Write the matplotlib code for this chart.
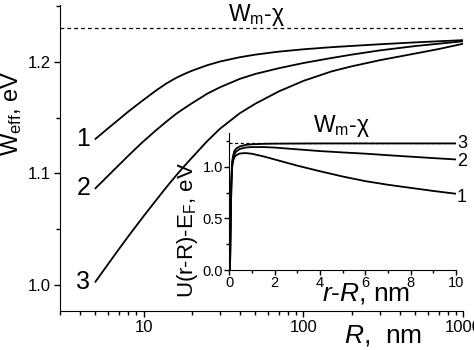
import numpy as np
import matplotlib
matplotlib.use('Agg')
import matplotlib.pyplot as plt
from matplotlib.ticker import FixedLocator, MultipleLocator, NullFormatter, FormatStrFormatter

plt.rcParams['font.family'] = ['Liberation Sans', 'DejaVu Sans']
plt.rcParams['mathtext.fontset'] = 'custom'
plt.rcParams['mathtext.rm'] = 'Liberation Sans'
plt.rcParams['mathtext.it'] = 'Liberation Sans:italic'

# Weff(R) for the three cases
R = [5, 6, 7, 8, 9, 10, 12, 14, 16, 18, 20, 25, 30, 40, 50, 70, 100, 150, 200, 300, 500, 700, 1000]
W1 = [1.131, 1.1405, 1.1484, 1.1553, 1.161, 1.166, 1.1745, 1.181, 1.1857, 1.1892, 1.192, 1.197,
      1.2003, 1.2042, 1.2065, 1.2092, 1.2113, 1.2132, 1.2143, 1.2158, 1.2175, 1.2185, 1.2195]
W2 = [1.0867, 1.098, 1.1075, 1.1157, 1.1228, 1.1289, 1.1389, 1.1469, 1.1535, 1.1585, 1.1628,
      1.1715, 1.1772, 1.1848, 1.1892, 1.1943, 1.199, 1.2035, 1.2065, 1.2103, 1.2142, 1.2163, 1.2185]
W3 = [1.003, 1.0188, 1.0321, 1.0434, 1.0531, 1.0617, 1.0762, 1.0883, 1.0983, 1.1067, 1.1139,
      1.129, 1.14, 1.154, 1.1625, 1.1735, 1.183, 1.1915, 1.196, 1.2015, 1.2075, 1.2115, 1.2163]
W_lim = 1.23

# potential profile U(r-R)-EF
x_in = [0.03, 0.06, 0.09, 0.12, 0.16, 0.22, 0.3, 0.45, 0.7, 1.0, 1.5, 2, 3, 4, 5, 6, 7, 8, 9, 10]
U1 = [0, 0.45, 0.8, 0.98, 1.05, 1.09, 1.11, 1.127, 1.132, 1.125, 1.1, 1.07, 1.01, 0.956,
      0.905, 0.86, 0.825, 0.795, 0.765, 0.738]
U2 = [0, 0.47, 0.83, 1.01, 1.08, 1.12, 1.145, 1.17, 1.185, 1.19, 1.19, 1.185, 1.168, 1.151,
      1.138, 1.126, 1.111, 1.097, 1.083, 1.07]
U3 = [0, 0.48, 0.85, 1.03, 1.1, 1.15, 1.175, 1.195, 1.21, 1.217, 1.221, 1.223, 1.224, 1.225,
      1.225, 1.225, 1.225, 1.225, 1.225, 1.225]
U_lim = 1.233

W, H = 474, 350
fig = plt.figure(figsize=(W / 100, H / 100), dpi=100)

def box(x0, y0, x1, y1):
    # pixel box -> figure fraction
    return [x0 / W, 1 - y1 / H, (x1 - x0) / W, (y1 - y0) / H]

def ftext(x, y, s, **kw):
    # text placed in pixel coordinates of the figure
    return fig.text(x / W, 1 - y / H, s, ha='center', va='center', **kw)

ax = fig.add_axes(box(60, 5, 463.3, 310.7))
for w in (W1, W2, W3):
    ax.plot(R, w, color='black', lw=1.3)
ax.axhline(W_lim, color='black', lw=0.9, ls=(0, (3, 2.5)))
ax.set_xscale('log')
ax.set_xlim(3, 1000)
ax.set_ylim(0.977, 1.251)
ax.set_xticks([10, 100, 1000])
ax.set_xticklabels(['10', '100', '1000'])
ax.xaxis.set_minor_locator(FixedLocator([m * d for d in (1, 10, 100) for m in range(2, 10) if 3 <= m * d < 1000]))
ax.xaxis.set_minor_formatter(NullFormatter())
ax.set_yticks([1.0, 1.1, 1.2])
ax.yaxis.set_minor_locator(MultipleLocator(0.05))
for s in ('top', 'right'):
    ax.spines[s].set_visible(False)
ax.tick_params(which='major', direction='out', length=4.5, width=1, labelsize=12, pad=2)
ax.tick_params(which='minor', direction='out', length=2.7, width=1)

for lab, yy in (('1', W1[0]), ('2', W2[0]), ('3', W3[0])):
    ax.text(4.2, yy, lab, fontsize=18, ha='center', va='center')

ftext(257, 15, 'W$_\\mathrm{m}$-χ', fontsize=16.5)
ftext(12, 113, 'W$_\\mathrm{eff}$, eV', fontsize=17, rotation=90)
ftext(383, 336, '$\\mathit{R}$,  nm', fontsize=19)

# inset
ins = fig.add_axes(box(229.3, 133, 456, 270))
ins.set_facecolor('none')
for u in (U1, U2, U3):
    ins.plot(x_in, u, color='black', lw=1.3)
ins.axhline(U_lim, color='black', lw=0.9, ls=(0, (2.5, 2)))
ins.set_xlim(0, 10)
ins.set_ylim(0, 1.326)
ins.xaxis.set_major_locator(MultipleLocator(2))
ins.xaxis.set_minor_locator(MultipleLocator(1))
ins.yaxis.set_major_locator(MultipleLocator(0.5))
ins.yaxis.set_minor_locator(MultipleLocator(0.25))
ins.yaxis.set_major_formatter(FormatStrFormatter('%.1f'))
for s in ('top', 'right'):
    ins.spines[s].set_visible(False)
ins.tick_params(which='major', direction='out', length=3.5, width=1, labelsize=10.5, pad=1)
ins.tick_params(which='minor', direction='out', length=2, width=1)

ftext(188, 230, 'U(r-R)-E$_\\mathrm{F}$, eV', fontsize=16, rotation=90)

for lab, yy in (('3', 143.3), ('2', 161.7), ('1', 197.3)):
    ftext(462, yy, lab, fontsize=13)

ftext(342, 126, 'W$_\\mathrm{m}$-χ', fontsize=16.5)
ftext(366, 293, '$\\mathit{r}$-$\\mathit{R}$, nm', fontsize=19)

fig.savefig('out.png', dpi=100)
